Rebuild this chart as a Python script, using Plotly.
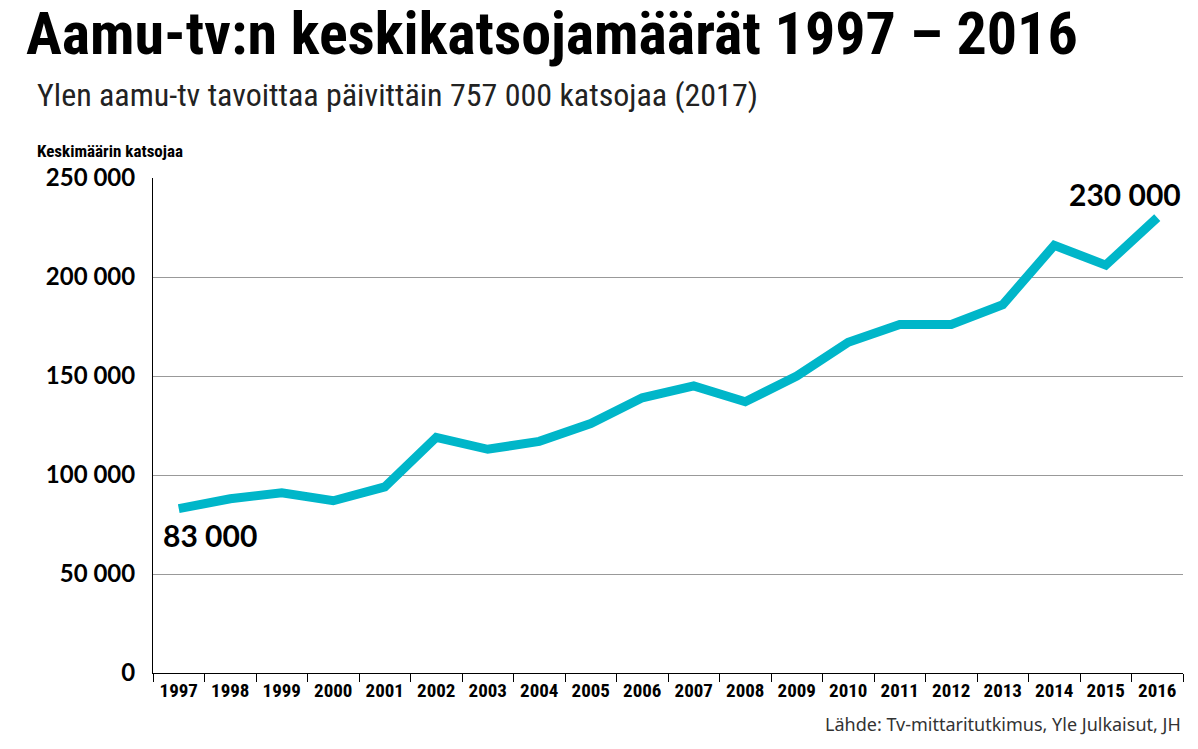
import plotly.graph_objects as go

years = [str(y) for y in range(1997, 2017)]
viewers = [83000, 88000, 91000, 87000, 94000, 119000, 113000, 117000, 126000, 139000,
           145000, 137000, 150000, 167000, 176000, 176000, 186000, 216000, 206000, 230000]
yticks = [0, 50000, 100000, 150000, 200000, 250000]
ylabels = ["0", "50 000", "100 000", "150 000", "200 000", "250 000"]

NARROW = "Liberation Sans Narrow, Roboto Condensed, Arial Narrow, sans-serif"
fig = go.Figure(go.Scatter(x=years, y=viewers, mode="lines",
                           line=dict(color="#00b6c9", width=9), hoverinfo="x+y"))
fig.update_layout(
    width=1198, height=749, plot_bgcolor="white", paper_bgcolor="white",
    margin=dict(l=145, r=23, t=170, b=84), showlegend=False,
    title=dict(text="<b>Aamu-tv:n keskikatsojamäärät 1997 – 2016</b>", x=0.015, xanchor="left",
               y=0.995, yanchor="top", font=dict(size=60, family=NARROW, color="black")),
)
fig.add_annotation(x=0, y=viewers[0], text="<b>83 000</b>", showarrow=False,
                   xanchor="left", yanchor="top", xshift=-18, yshift=-6,
                   font=dict(size=30, color="black", family="Lato"))
fig.add_annotation(x=len(years) - 1, y=viewers[-1], text="<b>230 000</b>", showarrow=False,
                   xanchor="right", yanchor="bottom", xshift=26, yshift=4,
                   font=dict(size=30, color="black", family="Lato"))
fig.add_annotation(xref="paper", yref="paper", x=-0.115, y=1.125, xanchor="left", yanchor="bottom",
                   text="Ylen aamu-tv tavoittaa päivittäin 757 000 katsojaa (2017)", showarrow=False,
                   font=dict(size=32, family=NARROW, color="#222"))
fig.add_annotation(xref="paper", yref="paper", x=-0.115, y=1.03, xanchor="left", yanchor="bottom",
                   text="<b>Keskimäärin katsojaa</b>", showarrow=False,
                   font=dict(size=17, family=NARROW, color="black"))
fig.add_annotation(xref="paper", yref="paper", x=1.0, y=-0.075, xanchor="right", yanchor="top",
                   text="Lähde: Tv-mittaritutkimus, Yle Julkaisut, JH", showarrow=False,
                   font=dict(size=18, family="Noto Sans", color="#333"))
fig.update_xaxes(type="category", showgrid=False, showline=True, linecolor="black", linewidth=1,
                 ticks="outside", tickson="boundaries", ticklen=8, tickcolor="black",
                 tickfont=dict(size=19, family=NARROW, color="black"),
                 tickvals=years, ticktext=["<b>%s</b>" % y for y in years],
                 range=[-0.5, len(years) - 0.5])
fig.update_yaxes(range=[0, 250000], tickvals=yticks, ticktext=["<b>%s</b>" % t for t in ylabels],
                 showgrid=True, gridcolor="#999", gridwidth=1, zeroline=False, showline=True,
                 linecolor="black", tickfont=dict(size=24, family="Lato", color="black"),
                 ticks="", ticklabelstandoff=12)
fig.write_html("out.html")
